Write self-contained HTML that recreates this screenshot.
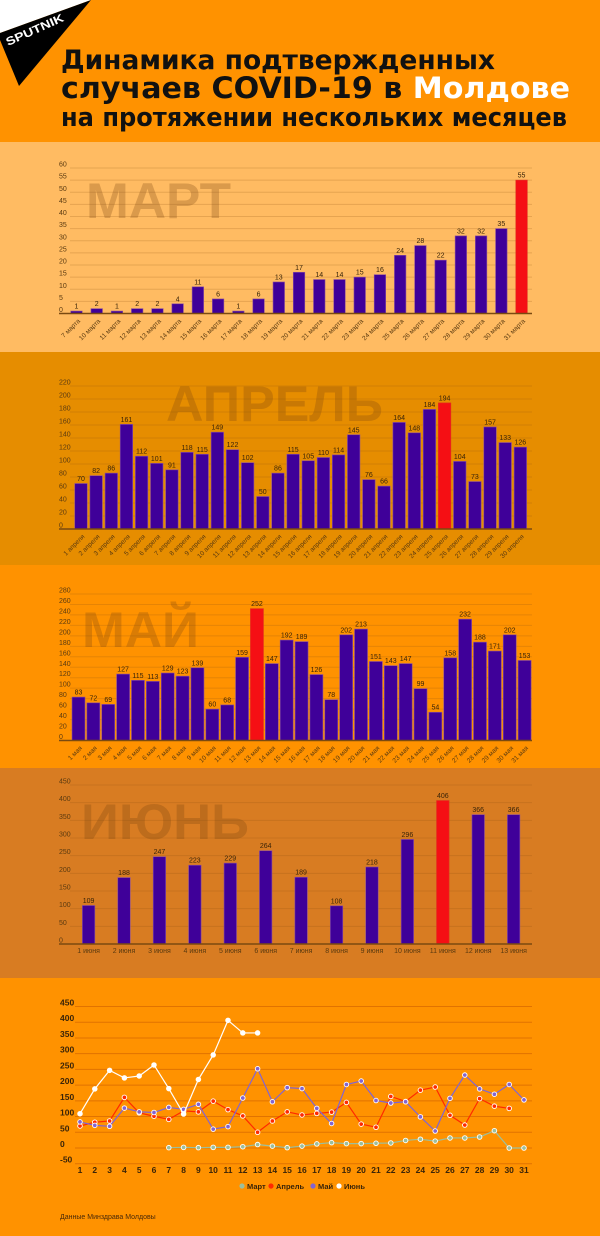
<!DOCTYPE html>
<html><head><meta charset="utf-8">
<style>
html,body{margin:0;padding:0;background:#FF9200;}
svg{display:block;font-family:"Liberation Sans","DejaVu Sans",sans-serif;}
</style></head>
<body>
<svg id="root" width="600" height="1236" viewBox="0 0 600 1236" xmlns="http://www.w3.org/2000/svg">
  <rect x="0" y="0" width="600" height="142" fill="#FF9200"/>
  <rect x="0" y="142" width="600" height="210" fill="#FFBB62"/>
  <rect x="0" y="352" width="600" height="213" fill="#E68D00"/>
  <rect x="0" y="565" width="600" height="203" fill="#FF9200"/>
  <rect x="0" y="768" width="600" height="210" fill="#D87C22"/>
  <rect x="0" y="978" width="600" height="258" fill="#FF9200"/>
  <g>
    <polygon points="0,0 91,0 0,33" fill="#fff"/>
    <polygon points="0,33 91,0 19,86 0,40" fill="#000"/>
    <text x="8" y="46" transform="rotate(-24 8 46)" fill="#fff" font-size="11.5" font-weight="bold" textLength="62" lengthAdjust="spacingAndGlyphs">SPUTNIK</text>
  </g>
  <g font-family="'DejaVu Sans','Liberation Sans',sans-serif" font-weight="bold">
  <text x="61" y="69" font-size="27" fill="#111" textLength="434" lengthAdjust="spacingAndGlyphs">Динамика подтвержденных</text>
  <text x="61" y="98" font-size="29" fill="#111" textLength="509" lengthAdjust="spacingAndGlyphs">случаев COVID-19 в <tspan fill="#fff">Молдове</tspan></text>
  <text x="61" y="126" font-size="26" fill="#111" textLength="506" lengthAdjust="spacingAndGlyphs">на протяжении нескольких месяцев</text>
  </g>
  <g id="charts"></g>
  <text x="60" y="1219" font-size="7" fill="#4a2a08">Данные Минздрава Молдовы</text>
</svg>
<script>
// ---- data ----
const marchLabels = ["7","10","11","12","13","14","15","16","17","18","19","20","21","22","23","24","25","26","27","28","29","30","31"];
const marchValues = [1,2,1,2,2,4,11,6,1,6,13,17,14,14,15,16,24,28,22,32,32,35,55];
const aprilValues = [70,82,86,161,112,101,91,118,115,149,122,102,50,86,115,105,110,114,145,76,66,164,148,184,194,104,73,157,133,126];
const mayValues = [83,72,69,127,115,113,129,123,139,60,68,159,252,147,192,189,126,78,202,213,151,143,147,99,54,158,232,188,171,202,153];
const juneValues = [109,188,247,223,229,264,189,108,218,296,406,366,366];
const marchLineValues = [null,null,null,null,null,null,1,2,1,2,2,4,11,6,1,6,13,17,14,14,15,16,24,28,22,32,32,35,55,0,0];
const lineTicks = [-50,0,50,100,150,200,250,300,350,400,450];
const legendNames = ["Март","Апрель","Май","Июнь"];

const NS = "http://www.w3.org/2000/svg";
const root = document.getElementById('charts');
function mk(tag, attrs, parent){
  const e = document.createElementNS(NS, tag);
  for (const k in attrs) e.setAttribute(k, attrs[k]);
  (parent||root).appendChild(e);
  return e;
}
function maxIdx(a){let m=0;a.forEach((v,i)=>{if(v>a[m])m=i;});return m;}

function barChart(cfg){
  const g = mk('g',{});
  
  
  const yScale = v => cfg.base - v*(cfg.base-cfg.top)/cfg.max;
  const xScale = i => cfg.x0 + i*cfg.step;
  for (let t=0; t<=cfg.max; t+=cfg.tick){
    const y = yScale(t);
    if (t>0){
      const ln = mk('line',{x1:70,x2:532,y1:y,y2:y,stroke:'rgba(140,80,20,0.22)','stroke-width':1},g);
      
      
    }
    const tl = mk('text',{x:59,y:y-1.5,'font-size':7,fill:'#5a3a10'},g);
    tl.textContent = t;
    
    
  }
  const wm = mk('text',{x:cfg.wmX,y:cfg.wmY,'font-size':50,'font-weight':'bold',fill:'rgba(120,65,15,0.27)',textLength:cfg.wmW,lengthAdjust:'spacingAndGlyphs'},g);
  wm.textContent = cfg.title;
  
  
  const hi = maxIdx(cfg.values);
  cfg.values.forEach((v,i)=>{
    const cx = xScale(i), y = yScale(v);
    const r = mk('rect',{x:cx-cfg.bw/2,y:y,width:cfg.bw,height:cfg.base-y,fill:i===hi?'#F50F14':'#3F0099',stroke:i===hi?'#e03020':'#8a50a0','stroke-width':0.6},g);
    
    
    const vl = mk('text',{x:cx,y:y-2.5,'font-size':7,'text-anchor':'middle',fill:'#3a2408'},g);
    vl.textContent = v;
    
    
    let xl;
    if (cfg.rotate){
      xl = mk('text',{x:cx+4,y:cfg.base+8,'font-size':6.5,'text-anchor':'end',fill:'#5a3a10',transform:`rotate(-45 ${cx+4} ${cfg.base+8})`},g);
    } else {
      xl = mk('text',{x:cx,y:cfg.base+9,'font-size':7,'text-anchor':'middle',fill:'#5a3a10'},g);
    }
    xl.textContent = cfg.labels[i];
    
    
  });
  const bl = mk('line',{x1:59,x2:532,y1:cfg.base,y2:cfg.base,stroke:'#7a4a10','stroke-width':1.6},g);
  
  
}

barChart({name:'march-chart',title:'МАРТ',values:marchValues,labels:marchLabels.map(d=>d+' марта'),
  x0:76.5,step:20.23,bw:11.5,base:313.5,top:168,max:60,tick:5,rotate:true,wmX:86,wmY:218,wmW:145});
barChart({name:'april-chart',title:'АПРЕЛЬ',values:aprilValues,labels:aprilValues.map((v,i)=>(i+1)+' апреля'),
  x0:81,step:15.15,bw:12.5,base:529,top:386,max:220,tick:20,rotate:true,wmX:166,wmY:421,wmW:217});
barChart({name:'may-chart',title:'МАЙ',values:mayValues,labels:mayValues.map((v,i)=>(i+1)+' мая'),
  x0:78.5,step:14.87,bw:13,base:740.5,top:594,max:280,tick:20,rotate:true,wmX:82,wmY:647,wmW:117});
barChart({name:'june-chart',title:'ИЮНЬ',values:juneValues,labels:juneValues.map((v,i)=>(i+1)+' июня'),
  x0:88.6,step:35.42,bw:12.5,base:944,top:785,max:450,tick:50,rotate:false,wmX:81,wmY:839,wmW:168});

// ---- line chart ----
(function(){
  const g = mk('g',{});
  
  
  const y0 = 1148, pxPer = (1148-1006.5)/450;
  const yS = v => y0 - v*pxPer;
  const xS = d => 80 + (d-1)*14.8;
  lineTicks.forEach(t=>{
    const y = yS(t);
    const ln = mk('line',{x1:75,x2:532,y1:y,y2:y,stroke:'rgba(200,90,0,0.55)','stroke-width':1},g);
    
    
    const tl = mk('text',{x:60,y:y-1,'font-size':8.5,'font-weight':'bold',fill:'#3a2408'},g);
    tl.textContent = t;
    
    
  });
  for (let d=1; d<=31; d++){
    const xl = mk('text',{x:xS(d),y:1173,'font-size':8.5,'font-weight':'bold','text-anchor':'middle',fill:'#3a2408'},g);
    xl.textContent = d;
    
    
  }
  const series = [
    {name:'march', vals:marchLineValues, color:'#9dbf9c'},
    {name:'april', vals:aprilValues, color:'#FF2A00'},
    {name:'may', vals:mayValues, color:'#8264D2'},
    {name:'june', vals:juneValues, color:'#FFFFFF'}
  ];
  series.forEach(s=>{
    const pts = [];
    s.vals.forEach((v,i)=>{ if(v!==null) pts.push([xS(i+1), yS(v)]); });
    const pl = mk('polyline',{points:pts.map(p=>p.join(',')).join(' '),fill:'none',stroke:s.color,'stroke-width':1.2},g);
    
    
    pts.forEach(p=>{
      const c = mk('circle',{cx:p[0],cy:p[1],r:2.3,fill:s.color,stroke:'#fff','stroke-width':0.9},g);
      
      
    });
  });
  const legX = [242,271,313,339];
  legendNames.forEach((n,i)=>{
    const c = mk('circle',{cx:legX[i],cy:1186,r:2.6,fill:series[i].color},g);
    
    
    const t = mk('text',{x:legX[i]+5,y:1189,'font-size':7.5,'font-weight':'bold',fill:'#3a2408'},g);
    t.textContent = n;
    
    
  });
})();
</script>
</body></html>
